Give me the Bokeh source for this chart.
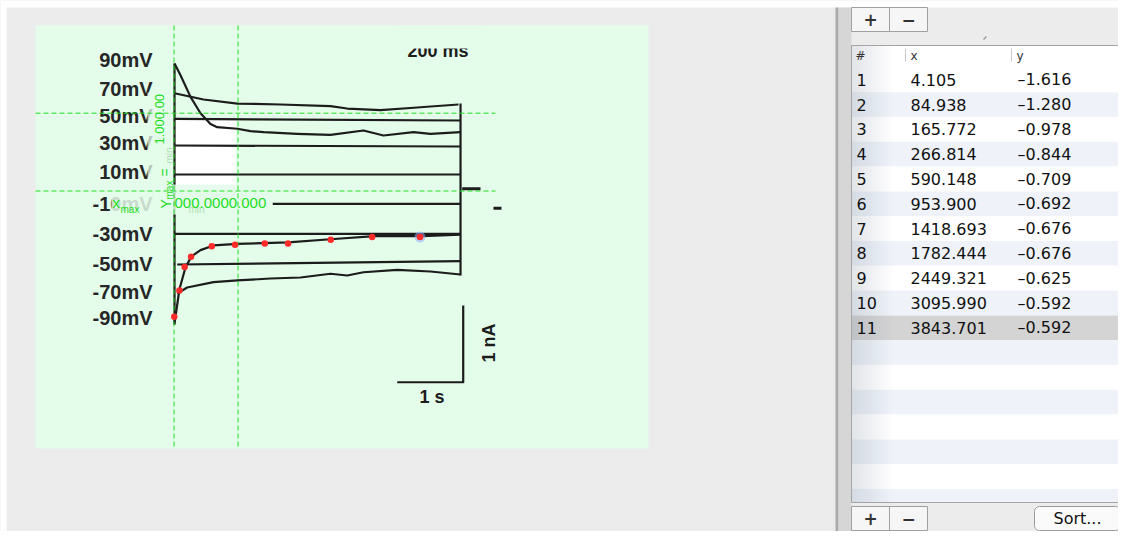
import numpy as np
from bokeh.plotting import figure
from bokeh.models import Range1d
from bokeh.core.properties import value
from bokeh.embed import file_html
from bokeh.resources import INLINE

point_no = list(range(1, 12))
x_ms = [4.105, 84.938, 165.772, 266.814, 590.148, 953.900,
        1418.693, 1782.444, 2449.321, 3095.990, 3843.701]
y_nA = [-1.616, -1.280, -0.978, -0.844, -0.709, -0.692,
        -0.676, -0.676, -0.625, -0.592, -0.592]
selected_point = 11

# calibration values (x_min, x_max) and (y_min, y_max)
calib_x = [0.0, 1000.0]
calib_y = [0.0, 1.0]

# step labels of the scanned figure
step_labels = ["90mV", "70mV", "50mV", "30mV", "10mV",
               "-10mV", "-30mV", "-50mV", "-70mV", "-90mV"]

# current traces of the scanned figure (time in ms, current in nA)
trace_a_t = [8, 100, 258, 414, 570, 675, 988, 1195, 1403, 1925, 2445, 2961, 3273, 3742, 4008, 4477]
trace_a_i = [1.64, 1.49, 1.21, 1.00, 0.86, 0.82, 0.80, 0.77, 0.756, 0.735, 0.722, 0.778, 0.713, 0.756, 0.735, 0.756]
trace_b_t = [8, 461, 992, 1664, 2445, 2706, 3227, 3747, 4008, 4445]
trace_b_i = [1.257, 1.176, 1.124, 1.112, 1.09, 1.06, 1.04, 1.07, 1.086, 1.112]
trace_c_t = [8, 4477]
trace_c_i = [0.928, 0.906]
trace_d_t = [8, 4477]
trace_d_i = [0.585, 0.572]
trace_e_t = [8, 4477]
trace_e_i = [0.212, 0.212]
trace_f_t = [1540, 4477]
trace_f_i = [-0.165, -0.165]
trace_g_t = [8, 4477]
trace_g_i = [-0.550, -0.550]
trace_h_t = [8, 86, 180, 273, 414, 617, 992, 1398, 1780, 2445, 3130, 3880, 4477]
trace_h_i = [-1.70, -1.26, -0.98, -0.84, -0.76, -0.70, -0.68, -0.67, -0.66, -0.62, -0.58, -0.58, -0.56]
trace_i_t = [50, 4477]
trace_i_i = [-0.945, -0.902]
trace_j_t = [50, 206, 617, 992, 1508, 1977, 2445, 2706, 2961, 3488, 4008, 4477]
trace_j_i = [-1.318, -1.24, -1.172, -1.15, -1.125, -1.112, -1.064, -1.086, -1.044, -1.013, -1.035, -1.073]
onset_t, onset_i = [8, 8], [1.64, -1.72]
offset_t, offset_i = [4477, 4477], [1.124, -1.086]
tail_t, tail_i = [4503, 4789], [0.028, 0.028]
dash_t, dash_i = [4992, 5117], [-0.221, -0.221]
bar_t = [3488, 4519, 4519]
bar_i = [-2.458, -2.458, -1.472]

# ---------------- layout ----------------
W, H = 1118, 531
X0, SX = 173.5, 0.064      # px of x=0, px per ms
Y0, SY = 190.5, 77.8       # px of y=0, px per nA


def to_ms(px):
    return (px - X0) / SX


def to_nA(py):
    return (Y0 - py) / SY


p = figure(width=W, height=H, x_range=Range1d(0, W), y_range=Range1d(H, 0),
           x_axis_type=None, y_axis_type=None, toolbar_location=None, output_backend="svg",
           min_border=0, background_fill_color="#ececec", border_fill_color="#ececec",
           outline_line_color=None)
p.extra_x_ranges = {"ms": Range1d(to_ms(0), to_ms(W))}
p.extra_y_ranges = {"nA": Range1d(to_nA(H), to_nA(0))}
D = dict(x_range_name="ms", y_range_name="nA")

ARIAL = value("Liberation Sans")
LUCIDA = value("DejaVu Sans")
INK = "#1c1c1c"
GREEN = "#22dd22"
MINT = "#e4fcea"

# window margins
p.quad(left=0, right=W, top=0, bottom=7, fill_color="white", line_color=None)
p.quad(left=0, right=6, top=0, bottom=H, fill_color="white", line_color=None)

# scanned image background
p.quad(left=35, right=648, top=25, bottom=448, fill_color=MINT, line_color=None)
p.quad(left=174, right=235, top=118, bottom=190, fill_color="white", line_color=None)

# "200 ms" (cut at the top of the scan)
p.text(x=437.5, y=50.5, text=["200 ms"], text_font=ARIAL, text_font_size="18px",
       text_font_style="bold", text_color=INK, text_align="center", text_baseline="middle")
p.quad(left=395, right=485, top=25, bottom=48, fill_color=MINT, line_color=None)

# traces
xs = [trace_a_t, trace_b_t, trace_c_t, trace_d_t, trace_e_t, trace_f_t, trace_g_t,
      trace_h_t, trace_i_t, trace_j_t, onset_t, offset_t, bar_t]
ys = [trace_a_i, trace_b_i, trace_c_i, trace_d_i, trace_e_i, trace_f_i, trace_g_i,
      trace_h_i, trace_i_i, trace_j_i, onset_i, offset_i, bar_i]
p.multi_line(xs=xs, ys=ys, line_color=INK, line_width=2.2, line_join="round", **D)
p.multi_line(xs=[tail_t, dash_t], ys=[tail_i, dash_i], line_color=INK, line_width=3, **D)

# step labels
label_y_px = [59, 88, 115, 142.5, 171.5, 203, 233, 263, 291.5, 317.5]
p.text(x=[152] * len(step_labels), y=label_y_px, text=step_labels, text_font=ARIAL,
       text_font_size="20px", text_font_style="bold", text_color="#262626",
       text_align="right", text_baseline="middle")

# scale bar labels
p.text(x=431.5, y=396.5, text=["1 s"], text_font=ARIAL, text_font_size="18px",
       text_font_style="bold", text_color=INK, text_align="center", text_baseline="middle")
p.text(x=488.5, y=342.5, text=["1 nA"], text_font=ARIAL, text_font_size="18px",
       text_font_style="bold", text_color=INK, text_align="center", text_baseline="middle",
       angle=np.pi / 2)

# semi-transparent label boxes of the digitiser
p.quad(left=111, right=272, top=184, bottom=214, fill_color=MINT, fill_alpha=0.85, line_color=None)
p.quad(left=147, right=171, top=92, bottom=184, fill_color=MINT, fill_alpha=0.75, line_color=None)

# calibration lines
p.segment(x0=calib_x, y0=[to_nA(25)] * 2, x1=calib_x, y1=[to_nA(448)] * 2,
          line_color=GREEN, line_width=1, line_dash="5 3", **D)
p.segment(x0=[to_ms(35)] * 2, y0=calib_y, x1=[to_ms(495)] * 2, y1=calib_y,
          line_color=GREEN, line_width=1, line_dash="5 3", **D)

# calibration labels
p.text(x=112, y=202, text=["x"], text_font=ARIAL, text_font_size="15px", text_color=GREEN,
       text_baseline="middle")
p.text(x=120, y=209, text=["max"], text_font=ARIAL, text_font_size="10px", text_color=GREEN,
       text_baseline="middle")
p.text(x=188, y=209, text=["min"], text_font=ARIAL, text_font_size="10px", text_color="#b0e0b0",
       text_baseline="middle")
p.text(x=174, y=202, text=["000.0000.000"], text_font=ARIAL, text_font_size="15px",
       text_color=GREEN, text_baseline="middle")
p.text(x=165.5, y=208, text=["Y"], text_font=ARIAL, text_font_size="14px", text_color=GREEN,
       text_baseline="middle", angle=np.pi / 2)
p.text(x=168.5, y=199, text=["max"], text_font=ARIAL, text_font_size="10px", text_color=GREEN,
       text_baseline="middle", angle=np.pi / 2)
p.text(x=168.5, y=163, text=["min"], text_font=ARIAL, text_font_size="10px", text_color="#b0e0b0",
       text_baseline="middle", angle=np.pi / 2)
p.text(x=164.5, y=176, text=["="], text_font=ARIAL, text_font_size="14px", text_color=GREEN,
       text_baseline="middle", angle=np.pi / 2)
p.text(x=159, y=144, text=["1.000.00"], text_font=ARIAL, text_font_size="13px",
       text_color=GREEN, text_baseline="middle", angle=np.pi / 2)

sel = selected_point - 1
p.scatter(x=[x_ms[sel]], y=[y_nA[sel]], size=11, fill_color="#8fb0ff", fill_alpha=0.55,
          line_color=None, **D)
p.scatter(x=x_ms, y=y_nA, size=6.5, fill_color="#ff2b2b", line_color=None, **D)

# ---------------- right panel ----------------
p.quad(left=835, right=838, top=7, bottom=H, fill_color="#aaaaaa", line_color=None)
p.quad(left=838, right=851, top=7, bottom=H, fill_color="#d6d6d6", line_color=None)

T_L, T_R, T_T, T_B = 851, 1120, 45, 502
ROW_H, ROW0 = 24.8, 66.9
p.quad(left=T_L, right=T_R, top=T_T, bottom=T_B, fill_color="white", line_color=None)
n_rows = int(np.ceil((T_B - ROW0) / ROW_H))
tops = [ROW0 + k * ROW_H for k in range(n_rows)]
bottoms = [min(t + ROW_H, T_B) for t in tops]
fills = []
for k in range(n_rows):
    if k == sel:
        fills.append("#d4d4d4")
    elif k % 2 == 1:
        fills.append("#eff3f9")
    else:
        fills.append("white")
p.quad(left=T_L, right=T_R, top=tops, bottom=bottoms, fill_color=fills, line_color=None)
# left shading of the table
for k in range(10):
    p.quad(left=T_L + 4 * k, right=T_L + 4 * k + 4, top=T_T, bottom=T_B,
           fill_color="#6f7f92", fill_alpha=0.2 * (1 - k / 10), line_color=None)
p.quad(left=T_L, right=T_R, top=T_T, bottom=T_B, fill_color=None, line_color="#a5a5a5",
       line_width=1)

# header
p.text(x=[855, 910, 1016], y=[55] * 3, text=["#", "x", "y"], text_font=LUCIDA,
       text_font_size="12px", text_color="#333333", text_baseline="middle")
p.segment(x0=[905, 1011], y0=[48] * 2, x1=[905, 1011], y1=[61] * 2, line_color="#c8c8c8")

# rows
centers = [ROW0 + k * ROW_H + ROW_H / 2 for k in range(len(point_no))]
fmt = lambda v: ("–" if v < 0 else "") + f"{abs(v):.3f}"
p.text(x=[856] * len(point_no), y=centers, text=[str(n) for n in point_no], text_font=LUCIDA,
       text_font_size="16px", text_color="#111111", text_baseline="middle")
p.text(x=[910] * len(point_no), y=centers, text=[fmt(v) for v in x_ms], text_font=LUCIDA,
       text_font_size="16px", text_color="#111111", text_baseline="middle")
p.text(x=[1017] * len(point_no), y=centers, text=[fmt(v) for v in y_nA], text_font=LUCIDA,
       text_font_size="16px", text_color="#111111", text_baseline="middle")

# segmented +/- buttons
for top, bot in [(7, 31), (506, 530)]:
    cy = (top + bot) / 2
    p.quad(left=851, right=927, top=top, bottom=bot, fill_color="#f6f6f6", line_color="#a0a0a0")
    p.segment(x0=[889], y0=[top], x1=[889], y1=[bot], line_color="#a0a0a0")
    p.text(x=[870, 908], y=[cy, cy], text=["+", "−"], text_font=LUCIDA, text_font_size="17px",
           text_font_style="bold", text_color="#333333", text_align="center", text_baseline="middle")


def rounded(l, r, t, b, rad, n=8):
    px, py = [], []
    for cx, cy, a0 in [(r - rad, t + rad, -90), (r - rad, b - rad, 0),
                       (l + rad, b - rad, 90), (l + rad, t + rad, 180)]:
        for a in np.linspace(a0, a0 + 90, n):
            px.append(cx + rad * np.cos(np.radians(a)))
            py.append(cy + rad * np.sin(np.radians(a)))
    return px, py


sx, sy = rounded(1034, 1120, 506, 530, 5)
p.patch(sx, sy, fill_color="#fafafa", line_color="#9a9a9a")
p.text(x=1077, y=518, text=["Sort..."], text_font=LUCIDA, text_font_size="16px",
       text_color="#111111", text_align="center", text_baseline="middle")

# resize grip mark
p.segment(x0=[983], y0=[39], x1=[986], y1=[36], line_color="#999999", line_width=1.5)

open("out.html", "w").write(file_html(p, INLINE))
